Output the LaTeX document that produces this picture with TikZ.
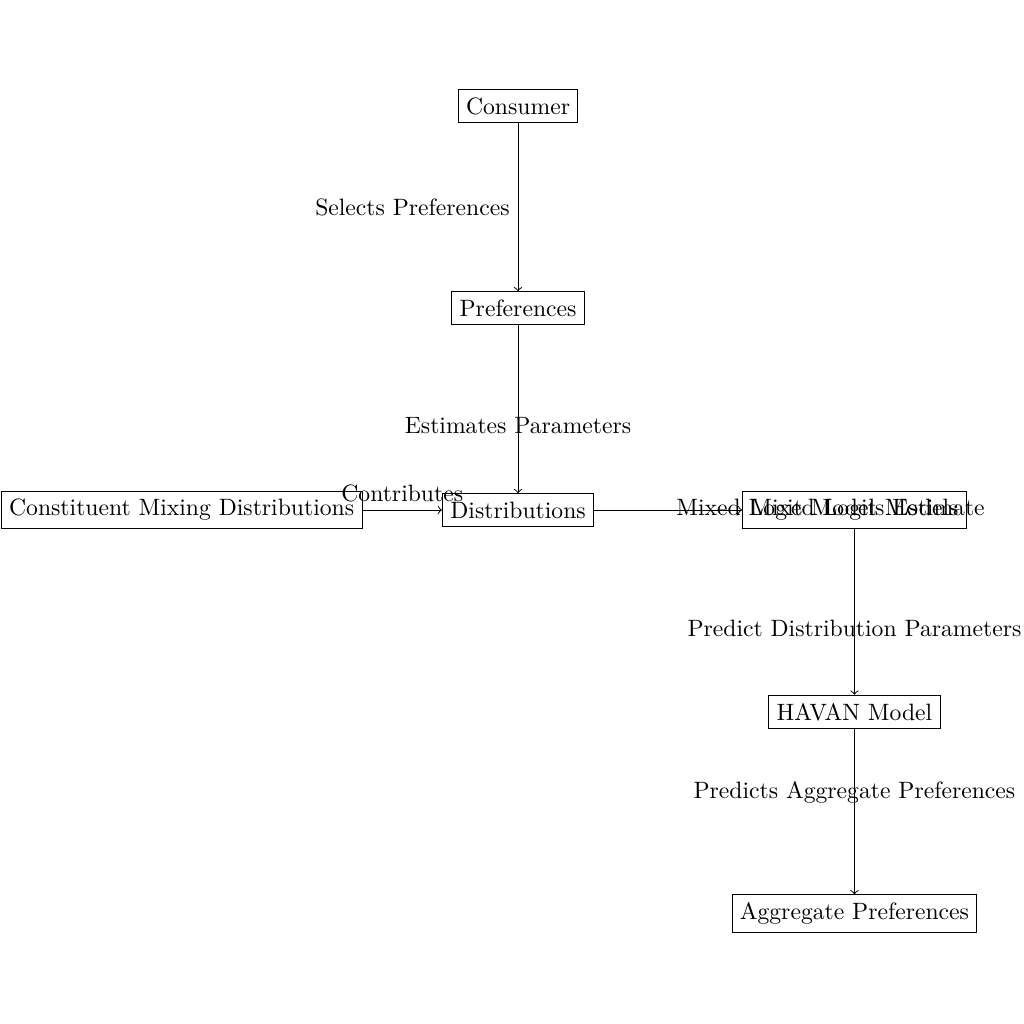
\documentclass[tikz,border=0pt]{standalone}
\begin{document}
\begin{tikzpicture}
\useasboundingbox (-7.70,-7.64) rectangle (7.52,7.58);
\tikzset{box/.style={draw,rectangle},
  conn/.style={->}}
\node[box] (consumer) at (0,6) {Consumer};
\node[box] (pref) at (0,3) {Preferences};
\node[box] (dist) at (0,0) {Distributions};
\node[box] (const) at (-5,0) {Constituent Mixing Distributions};
\node[box] (mixed) at (5,0) {Mixed Logit Models};
\node[box] (havan) at (5,-3) {HAVAN Model};
\node[box] (agg) at (5,-6) {Aggregate Preferences};
\draw[conn] (consumer) -- node[midway,left] (l1) {Selects Preferences} (pref);
\draw[conn] (pref) -- node[midway,below] (l2) {Estimates Parameters} (dist);
\draw[conn] (const) -- node[midway,above] (l3) {Contributes} (dist);
\draw[conn] (dist) -- node[midway,right] (l4) {Mixed Logit Models Estimate} (mixed);
\draw[conn] (mixed) -- node[midway,below] (l5) {Predict Distribution Parameters} (havan);
\draw[conn] (havan) -- node[midway,above] (l6) {Predicts Aggregate Preferences} (agg);
\end{tikzpicture}
\end{document}
